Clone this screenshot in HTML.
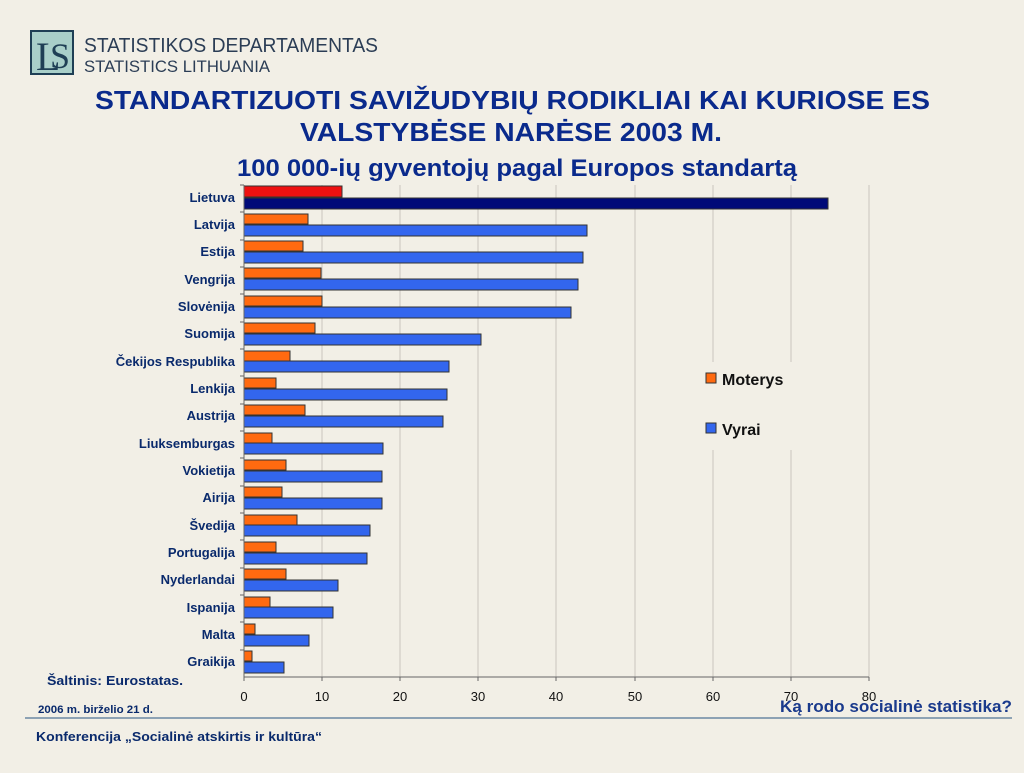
<!DOCTYPE html>
<html><head><meta charset="utf-8"><style>
body{margin:0;width:1024px;height:768px;background:#f2efe6;overflow:hidden;font-family:"Liberation Sans",sans-serif}
</style></head><body>
<svg width="1024" height="768" xmlns="http://www.w3.org/2000/svg" font-family="Liberation Sans, sans-serif">
<rect width="1024" height="768" fill="#f2efe6"/>
<!-- logo -->
<rect x="31" y="31" width="42" height="43" fill="#a9cfc9" stroke="#1f3f55" stroke-width="2"/>
<text x="36" y="70" font-family="Liberation Serif, serif" font-size="40" fill="#1f3f55">L</text>
<text x="50" y="68" font-family="Liberation Serif, serif" font-size="36" fill="#1f3f55">S</text>
<text x="84" y="52" font-size="20" fill="#2b3d55" textLength="294" lengthAdjust="spacingAndGlyphs">STATISTIKOS DEPARTAMENTAS</text>
<text x="84" y="72" font-size="17" fill="#2b3d55" textLength="186" lengthAdjust="spacingAndGlyphs">STATISTICS LITHUANIA</text>
<!-- titles -->
<g font-weight="bold" fill="#0a2a8c">
<text x="95" y="109" font-size="26" textLength="835" lengthAdjust="spacingAndGlyphs">STANDARTIZUOTI SAVIŽUDYBIŲ RODIKLIAI KAI KURIOSE ES</text>
<text x="300" y="141" font-size="26" textLength="422" lengthAdjust="spacingAndGlyphs">VALSTYBĖSE NARĖSE 2003 M.</text>
<text x="237" y="176" font-size="24" textLength="560" lengthAdjust="spacingAndGlyphs">100 000-ių gyventojų pagal Europos standartą</text>
</g>
<!-- grid -->
<g stroke="#c9c6bf" stroke-width="1">
<line x1="322" y1="185" x2="322" y2="677"/><line x1="400" y1="185" x2="400" y2="677"/>
<line x1="478" y1="185" x2="478" y2="677"/><line x1="556" y1="185" x2="556" y2="677"/>
<line x1="635" y1="185" x2="635" y2="677"/><line x1="713" y1="185" x2="713" y2="677"/>
<line x1="791" y1="185" x2="791" y2="677"/><line x1="869" y1="185" x2="869" y2="677"/>
</g>
<rect x="698" y="362" width="102" height="88" fill="#f2efe6"/>
<!-- bars -->
<g stroke="#333" stroke-width="1">
<rect x="244" y="186" width="98" height="11" fill="#ee1111"/><rect x="244" y="198" width="584" height="11" fill="#000a78"/>
<g fill="#ff6a10">
<rect x="244" y="214" width="64" height="10"/><rect x="244" y="241" width="59" height="10"/>
<rect x="244" y="268" width="77" height="10"/><rect x="244" y="296" width="78" height="10"/>
<rect x="244" y="323" width="71" height="10"/><rect x="244" y="351" width="46" height="10"/>
<rect x="244" y="378" width="32" height="10"/><rect x="244" y="405" width="61" height="10"/>
<rect x="244" y="433" width="28" height="10"/><rect x="244" y="460" width="42" height="10"/>
<rect x="244" y="487" width="38" height="10"/><rect x="244" y="515" width="53" height="10"/>
<rect x="244" y="542" width="32" height="10"/><rect x="244" y="569" width="42" height="10"/>
<rect x="244" y="597" width="26" height="10"/><rect x="244" y="624" width="11" height="10"/>
<rect x="244" y="651" width="8" height="10"/>
</g>
<g fill="#3366ee">
<rect x="244" y="225" width="343" height="11"/><rect x="244" y="252" width="339" height="11"/>
<rect x="244" y="279" width="334" height="11"/><rect x="244" y="307" width="327" height="11"/>
<rect x="244" y="334" width="237" height="11"/><rect x="244" y="361" width="205" height="11"/>
<rect x="244" y="389" width="203" height="11"/><rect x="244" y="416" width="199" height="11"/>
<rect x="244" y="443" width="139" height="11"/><rect x="244" y="471" width="138" height="11"/>
<rect x="244" y="498" width="138" height="11"/><rect x="244" y="525" width="126" height="11"/>
<rect x="244" y="553" width="123" height="11"/><rect x="244" y="580" width="94" height="11"/>
<rect x="244" y="607" width="89" height="11"/><rect x="244" y="635" width="65" height="11"/>
<rect x="244" y="662" width="40" height="11"/>
</g>
</g>
<!-- axes -->
<g stroke="#666" stroke-width="1">
<line x1="244" y1="185" x2="244" y2="677"/><line x1="244" y1="677" x2="869" y2="677"/>
<line x1="240" y1="185" x2="244" y2="185"/><line x1="240" y1="212" x2="244" y2="212"/>
<line x1="240" y1="240" x2="244" y2="240"/><line x1="240" y1="267" x2="244" y2="267"/>
<line x1="240" y1="294" x2="244" y2="294"/><line x1="240" y1="322" x2="244" y2="322"/>
<line x1="240" y1="349" x2="244" y2="349"/><line x1="240" y1="376" x2="244" y2="376"/>
<line x1="240" y1="404" x2="244" y2="404"/><line x1="240" y1="431" x2="244" y2="431"/>
<line x1="240" y1="458" x2="244" y2="458"/><line x1="240" y1="486" x2="244" y2="486"/>
<line x1="240" y1="513" x2="244" y2="513"/><line x1="240" y1="540" x2="244" y2="540"/>
<line x1="240" y1="568" x2="244" y2="568"/><line x1="240" y1="595" x2="244" y2="595"/>
<line x1="240" y1="622" x2="244" y2="622"/><line x1="240" y1="650" x2="244" y2="650"/>
<line x1="244" y1="677" x2="244" y2="681"/><line x1="322" y1="677" x2="322" y2="681"/>
<line x1="400" y1="677" x2="400" y2="681"/><line x1="478" y1="677" x2="478" y2="681"/>
<line x1="556" y1="677" x2="556" y2="681"/><line x1="635" y1="677" x2="635" y2="681"/>
<line x1="713" y1="677" x2="713" y2="681"/><line x1="791" y1="677" x2="791" y2="681"/>
<line x1="869" y1="677" x2="869" y2="681"/>
</g>
<g font-size="13" font-weight="bold" fill="#0a2a6c" text-anchor="end">
<text x="235" y="202">Lietuva</text><text x="235" y="229">Latvija</text>
<text x="235" y="256">Estija</text><text x="235" y="284">Vengrija</text>
<text x="235" y="311">Slovėnija</text><text x="235" y="338">Suomija</text>
<text x="235" y="366">Čekijos Respublika</text><text x="235" y="393">Lenkija</text>
<text x="235" y="420">Austrija</text><text x="235" y="448">Liuksemburgas</text>
<text x="235" y="475">Vokietija</text><text x="235" y="502">Airija</text>
<text x="235" y="530">Švedija</text><text x="235" y="557">Portugalija</text>
<text x="235" y="584">Nyderlandai</text><text x="235" y="612">Ispanija</text>
<text x="235" y="639">Malta</text><text x="235" y="666">Graikija</text>
</g>
<g font-size="13" fill="#111" text-anchor="middle">
<text x="244" y="701">0</text><text x="322" y="701">10</text><text x="400" y="701">20</text>
<text x="478" y="701">30</text><text x="556" y="701">40</text><text x="635" y="701">50</text>
<text x="713" y="701">60</text><text x="791" y="701">70</text><text x="869" y="701">80</text>
</g>
<!-- legend -->
<rect x="706" y="373" width="10" height="10" fill="#ff6a10" stroke="#333"/>
<text x="722" y="385" font-size="16" font-weight="bold" fill="#111">Moterys</text>
<rect x="706" y="423" width="10" height="10" fill="#3366ee" stroke="#333"/>
<text x="722" y="435" font-size="16" font-weight="bold" fill="#111">Vyrai</text>
<!-- footer -->
<text x="47" y="685" font-size="13" font-weight="bold" fill="#0a2a6c" textLength="136" lengthAdjust="spacingAndGlyphs">Šaltinis: Eurostatas.</text>
<text x="38" y="713" font-size="11" font-weight="bold" fill="#0a2a6c" textLength="115" lengthAdjust="spacingAndGlyphs">2006 m. birželio 21 d.</text>
<text x="780" y="712" font-size="17" font-weight="bold" fill="#1a3a8c" textLength="232" lengthAdjust="spacingAndGlyphs">Ką rodo socialinė statistika?</text>
<line x1="25" y1="718" x2="1012" y2="718" stroke="#8da2b4" stroke-width="2"/>
<text x="36" y="741" font-size="13" font-weight="bold" fill="#0a2a6c" textLength="286" lengthAdjust="spacingAndGlyphs">Konferencija „Socialinė atskirtis ir kultūra“</text>
</svg>
</body></html>
